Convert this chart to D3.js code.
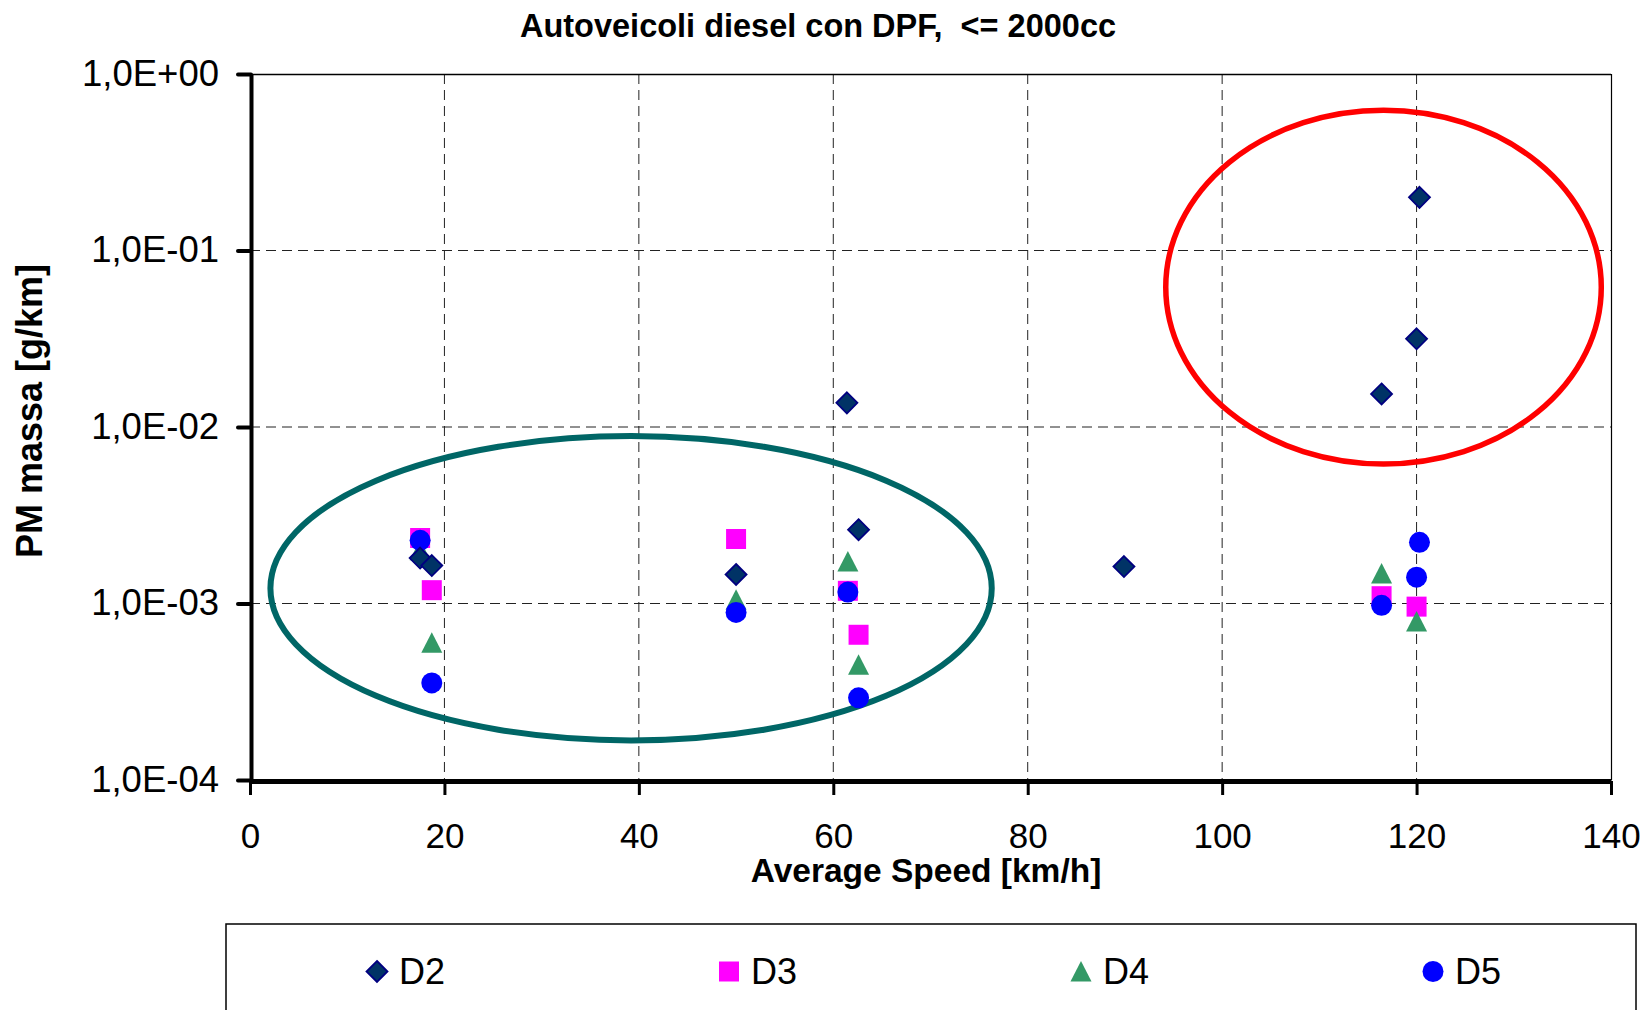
<!DOCTYPE html>
<html>
<head>
<meta charset="utf-8">
<script src="https://cdn.jsdelivr.net/npm/d3@7"></script>
<style>
  html, body { margin: 0; padding: 0; background: #fff; }
  svg { display: block; font-family: "Liberation Sans", Arial, sans-serif; }
  text { white-space: pre; }
</style>
</head>
<body>
<svg id="chart" width="1646" height="1010"></svg>
<script>
// ---------- data ----------
const chartTitle = "Autoveicoli diesel con DPF,  <= 2000cc";
const xAxisTitle = "Average Speed [km/h]";
const yAxisTitle = "PM massa [g/km]";

const xTickValues = [0, 20, 40, 60, 80, 100, 120, 140];
const yTickValues = [1, 0.1, 0.01, 0.001, 0.0001];
const yTickLabels = ["1,0E+00", "1,0E-01", "1,0E-02", "1,0E-03", "1,0E-04"];

const seriesNames = ["D2", "D3", "D4", "D5"];

const d2Speed = [17.5, 18.7, 50.0, 61.4, 62.6, 89.9, 116.4, 120.0, 120.3];
const d2PM    = [1.81e-3, 1.64e-3, 1.46e-3, 1.37e-2, 2.62e-3, 1.62e-3, 1.54e-2, 3.16e-2, 0.200];

const d3Speed = [17.5, 18.7, 50.0, 61.5, 62.6, 116.4, 120.0];
const d3PM    = [2.35e-3, 1.19e-3, 2.32e-3, 1.18e-3, 6.65e-4, 1.10e-3, 9.6e-4];

const d4Speed = [17.5, 18.7, 50.0, 61.5, 62.6, 116.4, 120.0];
const d4PM    = [2.0e-3, 6.0e-4, 1.05e-3, 1.73e-3, 4.5e-4, 1.48e-3, 7.9e-4];

const d5Speed = [17.5, 18.7, 50.0, 61.5, 62.6, 116.4, 120.0, 120.3];
const d5PM    = [2.28e-3, 3.55e-4, 8.9e-4, 1.16e-3, 2.92e-4, 9.76e-4, 1.41e-3, 2.22e-3];

// annotation ellipses in data space: centre (speed, PM), half-width in km/h, half-height in decades
const ellipseCenterSpeed = [39.2, 116.6];
const ellipseCenterPM    = [1.22e-3, 6.2e-2];
const ellipseHalfSpeed   = [37.1, 22.4];
const ellipseHalfDecades = [0.862, 1.002];
const ellipseColors      = ["#006666", "#ff0000"];

(function () {
// ---------- layout ----------
const svg = d3.select("#chart");
const pL = 250, pR = 1611, pT = 74, pB = 780;

const x = d3.scaleLinear().domain([0, 140]).range([pL, pR]);
const y = d3.scaleLog().domain([1e-4, 1]).range([pB, pT]);

// grid
const grid = svg.append("g");
grid.selectAll("line.v").data(xTickValues.filter(v => v > 0 && v < 140)).join("line")
  .attr("x1", d => x(d)).attr("x2", d => x(d)).attr("y1", pT).attr("y2", pB)
  .attr("stroke", "#222").attr("stroke-width", 1).attr("stroke-dasharray", "10,6");
grid.selectAll("line.h").data(yTickValues.filter(v => v < 1 && v > 1e-4)).join("line")
  .attr("y1", d => y(d)).attr("y2", d => y(d)).attr("x1", pL).attr("x2", pR)
  .attr("stroke", "#222").attr("stroke-width", 1).attr("stroke-dasharray", "10,6");

// thin top and right frame
svg.append("line").attr("x1", pL).attr("x2", pR).attr("y1", pT + 0.5).attr("y2", pT + 0.5)
  .attr("stroke", "#000").attr("stroke-width", 1.5);
svg.append("line").attr("x1", pR + 0.5).attr("x2", pR + 0.5).attr("y1", pT).attr("y2", pB)
  .attr("stroke", "#000").attr("stroke-width", 1.2);

// x axis
const xAxis = svg.append("g").attr("transform", `translate(0,${pB + 1})`)
  .call(d3.axisBottom(x).tickValues(xTickValues).tickSize(14).tickSizeOuter(0));
xAxis.select(".domain").attr("stroke", "#000").attr("stroke-width", 5);
xAxis.selectAll(".tick line").attr("stroke", "#000").attr("stroke-width", 3);
xAxis.selectAll(".tick text").attr("font-size", 35).attr("fill", "#000")
  .attr("font-family", "Liberation Sans, Arial, sans-serif").attr("dy", 0).attr("y", 67);

// y axis
const yAxis = svg.append("g").attr("transform", `translate(${pL + 1},0)`)
  .call(d3.axisLeft(y).tickValues(yTickValues).tickSize(13).tickSizeOuter(0)
    .tickFormat(d => yTickLabels[yTickValues.indexOf(d)]));
yAxis.select(".domain").attr("stroke", "#000").attr("stroke-width", 4);
yAxis.selectAll(".tick line").attr("stroke", "#000").attr("stroke-width", 4).attr("stroke-linecap", "round");
yAxis.selectAll(".tick text").attr("font-size", 36.5).attr("fill", "#000")
  .attr("font-family", "Liberation Sans, Arial, sans-serif").attr("x", -32).attr("dy", 11);

// ellipses
const ellipses = ellipseCenterSpeed.map((s, i) => ({
  cx: x(s), cy: y(ellipseCenterPM[i]),
  rx: x(s + ellipseHalfSpeed[i]) - x(s),
  ry: y(ellipseCenterPM[i]) - y(ellipseCenterPM[i] * Math.pow(10, ellipseHalfDecades[i])),
  color: ellipseColors[i]
}));
svg.append("g").selectAll("ellipse").data(ellipses).join("ellipse")
  .attr("cx", d => d.cx).attr("cy", d => d.cy).attr("rx", d => d.rx).attr("ry", d => d.ry)
  .attr("fill", "none").attr("stroke", d => d.color).attr("stroke-width", (d, i) => i === 0 ? 6 : 5.5);

// markers
const shapes = {
  D2: { path: "M0,-10.5L10.5,0L0,10.5L-10.5,0Z", fill: "#003366", stroke: "#000080", sw: 1.8 },
  D3: { path: "M-10,-10H10V10H-10Z", fill: "#ff00ff", stroke: "none", sw: 0 },
  D4: { path: "M0,-10.5L10.5,10L-10.5,10Z", fill: "#339966", stroke: "none", sw: 0 },
  D5: { path: d3.symbol(d3.symbolCircle, Math.PI * 10.5 * 10.5)(), fill: "#0000ff", stroke: "none", sw: 0 }
};
const seriesData = {
  D2: d2Speed.map((s, i) => [s, d2PM[i]]),
  D3: d3Speed.map((s, i) => [s, d3PM[i]]),
  D4: d4Speed.map((s, i) => [s, d4PM[i]]),
  D5: d5Speed.map((s, i) => [s, d5PM[i]])
};
const drawOrder = ["D3", "D4", "D5", "D2"];
drawOrder.forEach(name => {
  const sh = shapes[name];
  svg.append("g").selectAll("path").data(seriesData[name]).join("path")
    .attr("d", sh.path)
    .attr("transform", d => `translate(${x(d[0])},${y(d[1])})`)
    .attr("fill", sh.fill).attr("stroke", sh.stroke).attr("stroke-width", sh.sw);
});

// titles
svg.append("text").attr("x", 818).attr("y", 36.5).attr("text-anchor", "middle")
  .attr("font-size", 32.5).attr("font-weight", "bold").text(chartTitle);
svg.append("text").attr("x", 926).attr("y", 882).attr("text-anchor", "middle")
  .attr("font-size", 33.5).attr("font-weight", "bold").text(xAxisTitle);
svg.append("text").attr("transform", "translate(42,411) rotate(-90)").attr("text-anchor", "middle")
  .attr("font-size", 36).attr("font-weight", "bold").text(yAxisTitle);

// legend
svg.append("rect").attr("x", 226).attr("y", 924).attr("width", 1410).attr("height", 120)
  .attr("fill", "#fff").attr("stroke", "#000").attr("stroke-width", 1.5);
const legendX = d3.scalePoint().domain(seriesNames).range([377, 1433]);
const leg = svg.append("g").selectAll("g").data(seriesNames).join("g")
  .attr("transform", d => `translate(${legendX(d)},971.5)`);
leg.append("path").attr("d", d => shapes[d].path)
  .attr("fill", d => shapes[d].fill).attr("stroke", d => shapes[d].stroke).attr("stroke-width", d => shapes[d].sw);
leg.append("text").attr("x", 22).attr("y", 12.5).attr("font-size", 36).text(d => d);
})();
</script>
</body>
</html>
